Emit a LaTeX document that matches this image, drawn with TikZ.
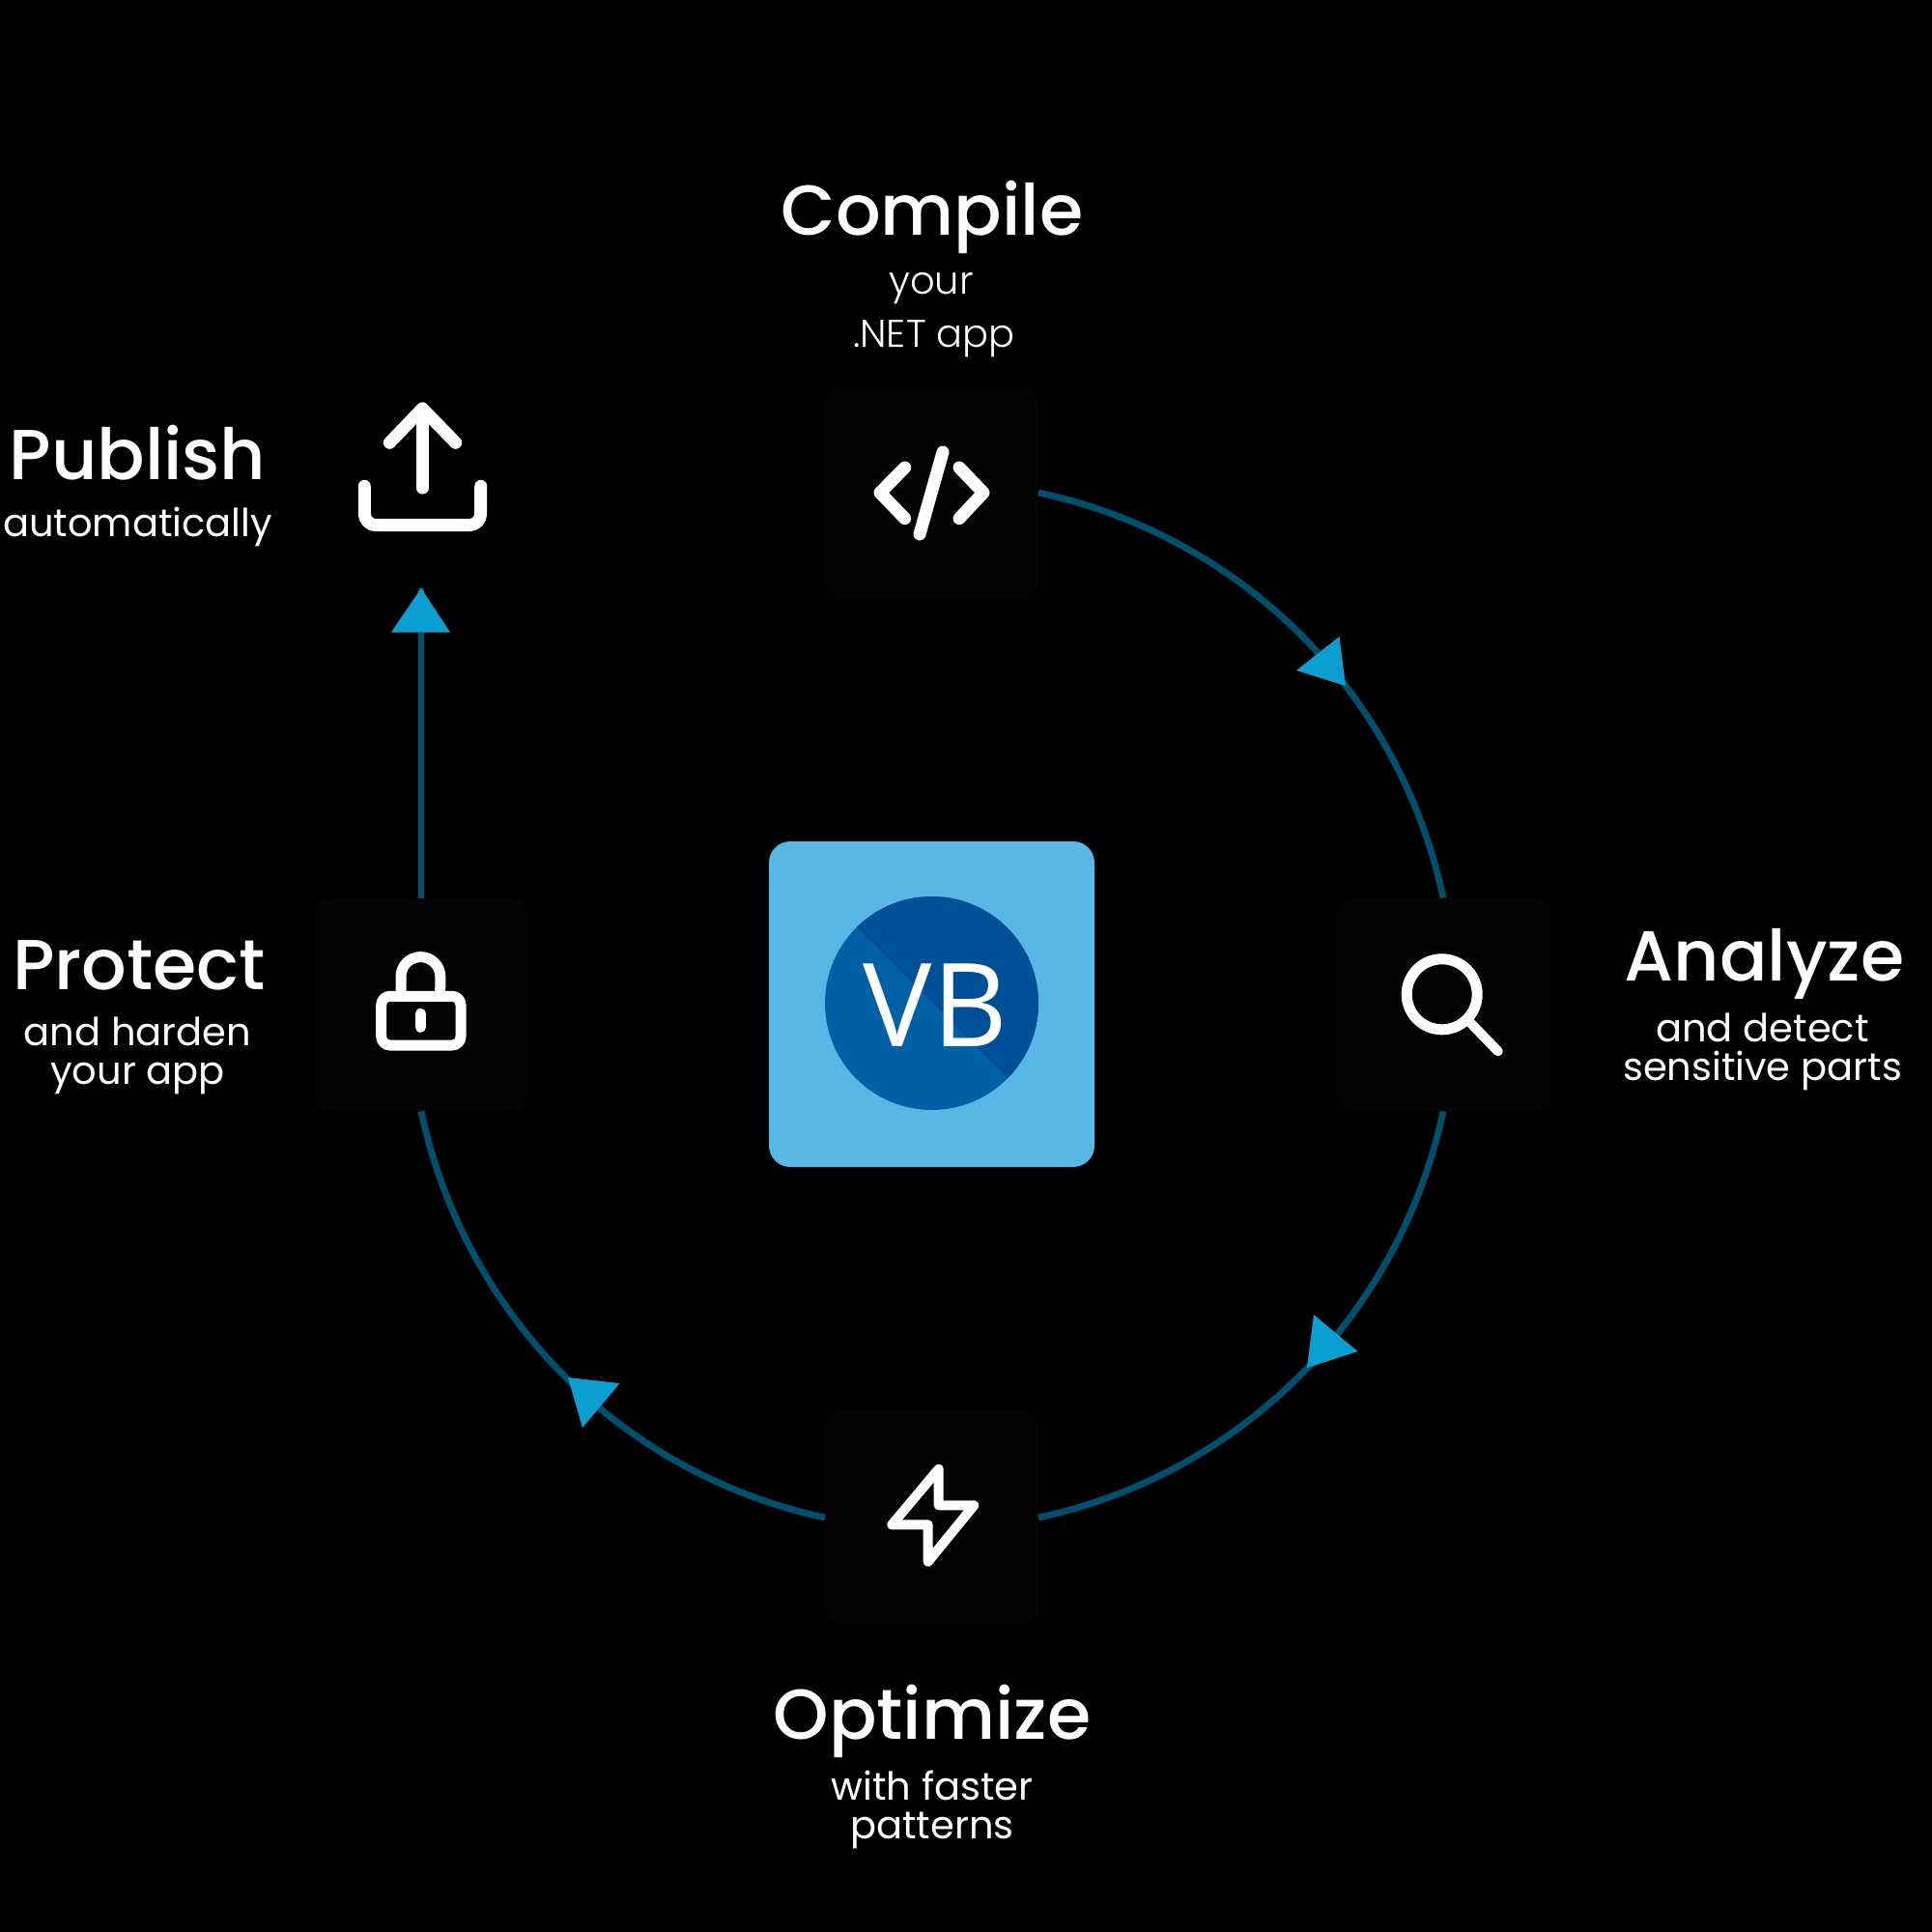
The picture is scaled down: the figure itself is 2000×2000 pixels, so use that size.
\documentclass[tikz,border=0pt]{standalone}
\usepackage{fontspec}
\setmainfont{Poppins}[UprightFont=* Regular]
\newfontfamily\titlefont{Poppins}[UprightFont=* Medium]
\newfontfamily\lightfont{Poppins}[UprightFont=* Light]
\newfontfamily\vbfont{Open Sans}
\definecolor{linecol}{HTML}{00506D}
\definecolor{tipcol}{HTML}{0A9FD0}
\definecolor{boxcol}{HTML}{040404}
\definecolor{tilecol}{HTML}{57B7E5}
\definecolor{disclow}{HTML}{0060A6}
\definecolor{dischigh}{HTML}{004F97}
\tikzset{
  x=0.5pt,y=-0.5pt,
  tilebox/.style={rectangle,rounded corners=8pt,fill=boxcol,minimum size=110pt,inner sep=0pt},
  linkline/.style={draw=linecol,line width=3.4pt},
  tiptri/.style={fill=tipcol},
  icon/.style={draw=white,line width=5.5pt,line cap=round,line join=round},
  titletext/.style={text=white,anchor=base,inner sep=0pt,font=\titlefont\fontsize{36.6}{36.6}\selectfont},
  subtext/.style={text=white,anchor=base,inner sep=0pt,font=\fontsize{20}{20}\selectfont},
  lightsub/.style={text=white,anchor=base,inner sep=0pt,font=\lightfont\fontsize{20}{20}\selectfont},
}
\begin{document}
\begin{tikzpicture}
\fill[black] (0,0) rectangle (2000,2000);
\useasboundingbox (0,0) rectangle (2000,2000);
% tiles
\node[tilebox] (compile) at (964.5,510) {};
\node[tilebox] (analyze) at (1494,1040) {};
\node[tilebox] (optimize) at (964.5,1571) {};
\node[tilebox] (protect) at (436,1040) {};
\coordinate (publishtip) at (436,609);
% connectors
\draw[linkline] (compile.east) to[out=-12,in=102,looseness=.93] (analyze.north);
\draw[linkline] (analyze.south) to[out=-102,in=12,looseness=.93] (optimize.east);
\draw[linkline] (optimize.west) to[out=168,in=-78,looseness=.93] (protect.south);
\draw[linkline] (protect.north) -- (publishtip);
% arrow heads
\fill[tiptri] (1386.5,659) -- (1342,694) -- (1393,710) -- cycle;
\fill[tiptri] (1360,1361) -- (1405.5,1399) -- (1353,1416) -- cycle;
\fill[tiptri] (588,1426) -- (641.5,1432) -- (603,1478) -- cycle;
\fill[tiptri] (publishtip) -- (405,654.5) -- (466,654.5) -- cycle;
% centre logo
\node[rectangle,rounded corners=11pt,fill=tilecol,minimum size=168.5pt,inner sep=0pt] (logo) at (964.5,1039.5) {};
\fill[disclow] (964.5,1038.5) circle[radius=55.25pt];
\begin{scope}
\clip (964.5,1038.5) circle[radius=55.25pt];
\fill[dischigh] (840,913) -- (1200,913) -- (1200,1273) -- cycle;
\end{scope}
\node[text=white,inner sep=0pt,anchor=base,font=\vbfont\fontsize{60}{60}\selectfont] (vb) at (968.5,1083) {VB};
% icons
\draw[icon,line width=6.5pt] (936.7,484) -- (911,510) -- (936.7,536.7);
\draw[icon,line width=6.5pt] (993,484) -- (1018,510) -- (993,536.7);
\draw[icon,line width=6.5pt] (976,468) -- (952,553);
\draw[icon,line width=6.5pt] (403.3,458.3) -- (437.3,423) -- (471.7,458.3);
\draw[icon,line width=6.5pt] (437.3,423) -- (437.3,505);
\draw[icon,line width=6.5pt,rounded corners=6pt] (377.3,503.3) -- (377.3,543.7) -- (497.7,543.7) -- (497.7,503.3);
\draw[icon,rounded corners=4.5pt] (394.7,1031.3) rectangle (477,1082);
\draw[icon] (415,1031) -- (415,1011) arc[start angle=180,end angle=0,radius=10.2pt] -- (455.7,1031);
\draw[icon] (435.3,1049.3) -- (435.3,1063.3);
\draw[icon] (1492.7,1029.3) circle[radius=18.25pt];
\draw[icon,line width=5pt] (1521.7,1058.3) -- (1550.7,1088.3);
\draw[icon,line width=5pt] (971.7,1520.7) -- (923.3,1578.3) -- (960.7,1578.3) -- (960.7,1616.7) -- (1008.3,1558.3) -- (971.7,1558.3) -- cycle;
% labels
\node[titletext] (t1) at (965,244) {Compile};
\node[lightsub] (s1a) at (964,305) {your};
\node[lightsub] (s1b) at (967,360) {.NET app};
\node[titletext] (t2) at (1826.5,1015) {Analyze};
\node[subtext] (s2a) at (1824.5,1078) {and detect};
\node[subtext] (s2b) at (1824.5,1118) {sensitive parts};
\node[titletext] (t3) at (965,1800) {Optimize};
\node[subtext] (s3a) at (965,1863) {with faster};
\node[subtext] (s3b) at (965,1903) {patterns};
\node[titletext] (t4) at (144,1024) {Protect};
\node[subtext] (s4a) at (142.5,1082) {and harden};
\node[subtext] (s4b) at (142.5,1122) {your app};
\node[titletext] (t5) at (142.5,496.5) {Publish};
\node[subtext] (s5a) at (142.5,555) {automatically};
\end{tikzpicture}
\end{document}
